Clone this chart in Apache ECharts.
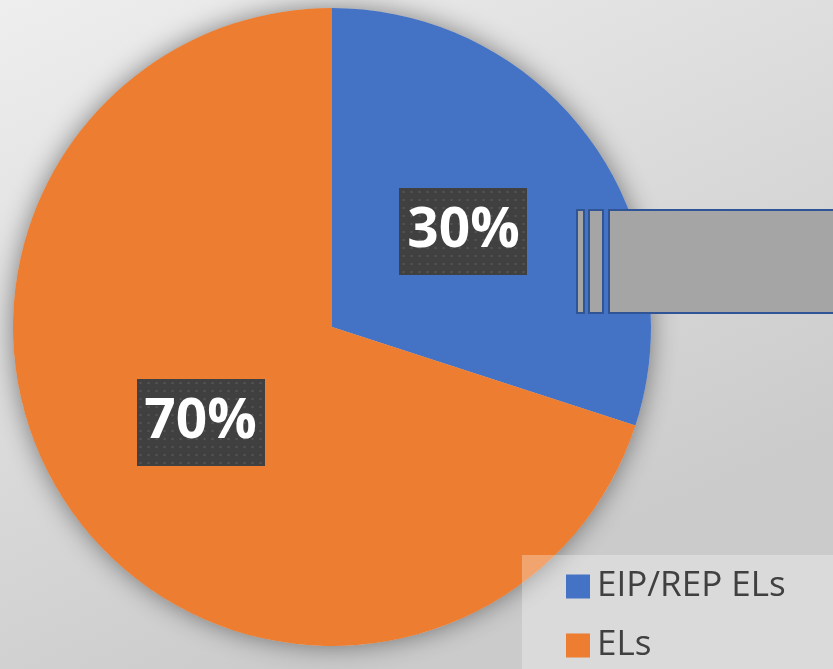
<!DOCTYPE html>
<html>
<head>
<meta charset="utf-8">
<script src="https://cdn.jsdelivr.net/npm/echarts@6/dist/echarts.min.js"></script>
<style>
  html, body { margin: 0; padding: 0; }
  #chart { width: 833px; height: 669px; }
</style>
</head>
<body>
<div id="chart"></div>
<script>
// Share of ELs by type
const categories = ['EIP/REP ELs', 'ELs'];
const shares = [30, 70];
const colors = ['#4472C4', '#ED7D31'];

// Dotted dark fill used behind the percentage labels
function dottedTile(w, h) {
  const c = document.createElement('canvas');
  c.width = w; c.height = h;
  const ctx = c.getContext('2d');
  ctx.fillStyle = '#404040';
  ctx.fillRect(0, 0, w, h);
  ctx.fillStyle = '#555555';
  for (let y = 3; y < h; y += 8) {
    for (let x = 3; x < w; x += 8) {
      ctx.fillRect(x, y, 2, 2);
    }
  }
  return c;
}
const labelBg = dottedTile(128, 87);

const chart = echarts.init(document.getElementById('chart'), null, { renderer: 'canvas' });

chart.setOption({
  backgroundColor: {
    type: 'linear', x: 0, y: 0, x2: 0.35, y2: 1,
    colorStops: [
      { offset: 0, color: '#eeeeee' },
      { offset: 1, color: '#cbcbcb' }
    ]
  },
  animation: false,
  legend: {
    data: categories,
    orient: 'vertical',
    left: 566,
    top: 569,
    padding: 0,
    itemWidth: 24,
    itemHeight: 24,
    itemGap: 24,
    icon: 'rect',
    textStyle: {
      fontFamily: 'Open Sans',
      fontSize: 35,
      lineHeight: 34,
      color: '#404040',
      padding: [0, 0, 0, 2]
    },
    z: 10
  },
  graphic: [
    // translucent panel behind the legend
    { type: 'rect', z: 5, silent: true,
      shape: { x: 522, y: 555, width: 320, height: 120 },
      style: { fill: 'rgba(255,255,255,0.3)' } },
    // grey bar shape on the right
    { type: 'rect', z: 5, silent: true,
      shape: { x: 577, y: 210, width: 7, height: 103 },
      style: { fill: '#a5a5a5', stroke: '#2F5597', lineWidth: 2 } },
    { type: 'rect', z: 5, silent: true,
      shape: { x: 589, y: 210, width: 14, height: 103 },
      style: { fill: '#a5a5a5', stroke: '#2F5597', lineWidth: 2 } },
    { type: 'rect', z: 5, silent: true,
      shape: { x: 609, y: 210, width: 240, height: 103 },
      style: { fill: '#a5a5a5', stroke: '#2F5597', lineWidth: 2 } }
  ],
  series: [
    {
      // soft shadow disc under the pie
      type: 'pie',
      center: [332, 327],
      radius: 319,
      silent: true,
      z: 1,
      label: { show: false },
      labelLine: { show: false },
      itemStyle: {
        color: '#cccccc',
        shadowBlur: 26,
        shadowColor: 'rgba(0,0,0,0.45)'
      },
      data: [{ value: 1, name: '' }]
    },
    {
      type: 'pie',
      center: [332, 327],
      radius: 319,
      startAngle: 90,
      clockwise: true,
      z: 2,
      data: categories.map((n, i) => ({
        name: n,
        value: shares[i],
        itemStyle: { color: colors[i] }
      })),
      label: {
        show: true,
        position: 'inside',
        formatter: '{d}%',
        fontFamily: 'Open Sans',
        fontWeight: 'bold',
        fontSize: 55,
        color: '#ffffff',
        width: 128,
        height: 87,
        lineHeight: 87,
        align: 'center',
        verticalAlign: 'middle',
        backgroundColor: { image: labelBg },
        shadowColor: 'rgba(0,0,0,0.5)',
        shadowBlur: 8,
        shadowOffsetX: 5,
        shadowOffsetY: 6
      },
      labelLine: { show: false },
      emphasis: { disabled: true }
    }
  ]
});
</script>
</body>
</html>
